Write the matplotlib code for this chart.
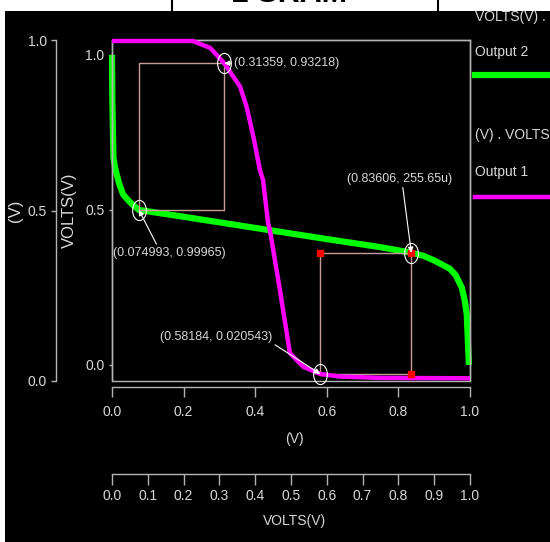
import numpy as np
import matplotlib
matplotlib.use('Agg')
import matplotlib.pyplot as plt
from matplotlib.path import Path
from matplotlib.patches import Rectangle
from matplotlib.lines import Line2D
from matplotlib.markers import MarkerStyle

# Output 2 (green), plotted against VOLTS(V)
out2_x = [0.0, 0.001, 0.004, 0.008, 0.013, 0.02, 0.031, 0.05, 0.075, 0.2, 0.4,
          0.6, 0.75, 0.83606, 0.87, 0.9, 0.925, 0.944, 0.96, 0.977, 0.985,
          0.991, 0.994, 0.997]
out2_y = [1.0, 0.85, 0.67, 0.64, 0.615, 0.585, 0.55, 0.525, 0.50, 0.478, 0.442,
          0.406, 0.38, 0.362, 0.352, 0.337, 0.322, 0.31, 0.29, 0.25, 0.21,
          0.163, 0.08, 0.0]

# Output 1 (magenta), plotted against (V)
out1_x = [0.0, 0.226, 0.274, 0.31359, 0.358, 0.376, 0.395, 0.413, 0.422, 0.436,
          0.441, 0.469, 0.497, 0.534, 0.58184, 0.637, 0.75, 1.0]
out1_y = [0.997, 0.997, 0.977, 0.932, 0.863, 0.804, 0.716, 0.619, 0.589, 0.463,
          0.443, 0.267, 0.082, 0.042, 0.0205, 0.013, 0.009, 0.008]

yticks = [0.0, 0.5, 1.0]
xticks_v = [0.0, 0.2, 0.4, 0.6, 0.8, 1.0]
xticks_volts = [0.0, 0.1, 0.2, 0.3, 0.4, 0.5, 0.6, 0.7, 0.8, 0.9, 1.0]

# marker readouts: x value, curve, label text
mark_a = (0.31359, 'out1', '(0.31359, 0.93218)')
mark_b = (0.074993, 'out2', '(0.074993, 0.99965)')
mark_c = (0.58184, 'out1', '(0.58184, 0.020543)')
mark_d = (0.83606, 'out2', '(0.83606, 255.65u)')

GREEN = '#00ff00'
MAGENTA = '#ff00ff'
GREY = '#b4b4b4'
TXT = '#d8d8d8'
BOX = '#c89a9a'
font = ['Liberation Sans', 'DejaVu Sans']

W, H = 550, 542
fig = plt.figure(figsize=(5.5, 5.42), dpi=100, facecolor='white')

# cut-off window title strip
fig.text(290 / W, 1 + 6 / H, '2 SRAM', ha='center', va='center', fontsize=22,
         weight='bold', family=font, color='black', zorder=-3)
for xp in (172, 438):
    fig.add_artist(Line2D([xp / W, xp / W], [1, 1 - 11 / H], color='black', lw=1.5, zorder=-3))
fig.add_artist(Rectangle((5 / W, 0), 545 / W, (H - 11) / H, transform=fig.transFigure,
                         fc='black', ec='none', zorder=-1))

rect = [112 / W, (H - 381) / H, 358 / W, 341 / H]
ax_g = fig.add_axes(rect)
ax_m = fig.add_axes(rect)
for ax in (ax_g, ax_m):
    ax.set_facecolor('none')
    ax.set_xlim(0, 1)
    for s in ax.spines.values():
        s.set_color(GREY)
        s.set_linewidth(1)
    ax.tick_params(colors=GREY, labelcolor=TXT, width=1)

ax_g.set_ylim(-0.0516, 1.048)
ax_m.set_ylim(0, 1)

# green axis: inner left ticks + lower "VOLTS(V)" x axis
ax_g.spines['top'].set_visible(False)
ax_g.spines['right'].set_visible(False)
ax_g.spines['bottom'].set_position(('outward', 93 * 0.72))
ax_g.set_xticks(xticks_volts)
ax_g.set_xticklabels(['%.1f' % v for v in xticks_volts], family=font, fontsize=10)
ax_g.tick_params(axis='x', direction='out', length=8, pad=3)
ax_g.set_yticks(yticks)
ax_g.set_yticklabels(['%.1f' % v for v in yticks], family=font, fontsize=10)
ax_g.tick_params(axis='y', direction='out', length=2.5, pad=3)
ax_g.set_xlabel('VOLTS(V)', family=font, fontsize=10, color=TXT)
ax_g.xaxis.set_label_coords(0.51, -0.39)
ax_g.set_ylabel('VOLTS(V)', family=font, fontsize=12, color=TXT)
ax_g.yaxis.set_label_coords((77 - 112) / 358, 0.5)

# magenta axis: outer left axis + upper "(V)" x axis
ax_m.spines['left'].set_position(('outward', 56 * 0.72))
ax_m.spines['bottom'].set_position(('outward', 6 * 0.72))
ax_m.set_xticks(xticks_v)
ax_m.set_xticklabels(['%.1f' % v for v in xticks_v], family=font, fontsize=10)
ax_m.tick_params(axis='x', direction='out', length=7.2, pad=5.5)
ax_m.set_yticks(yticks)
ax_m.set_yticklabels(['%.1f' % v for v in yticks], family=font, fontsize=10)
ax_m.tick_params(axis='y', direction='out', length=3.6, pad=3)
ax_m.set_xlabel('(V)', family=font, fontsize=10, color=TXT)
ax_m.xaxis.set_label_coords(0.51, -0.15)
ax_m.set_ylabel('(V)', family=font, fontsize=12, color=TXT)
ax_m.yaxis.set_label_coords((23 - 112) / 358, 0.5)

# plot frame
ax_m.add_patch(Rectangle((0, 0), 1, 1, transform=ax_m.transAxes, fill=False,
                         ec=GREY, lw=1, clip_on=False, zorder=1))

ax_g.plot(out2_x, out2_y, color=GREEN, lw=4.5, solid_capstyle='butt', clip_on=False)
ax_m.plot(out1_x, out1_y, color=MAGENTA, lw=3.2, solid_capstyle='butt', clip_on=False, zorder=3)


def to_m(x, y):
    # green-axis data -> magenta-axis data
    d = ax_g.transData.transform((x, y))
    return ax_m.transData.inverted().transform(d)


def point(mark):
    x, curve, _ = mark
    if curve == 'out1':
        return x, float(np.interp(x, out1_x, out1_y))
    return tuple(to_m(x, float(np.interp(x, out2_x, out2_y))))


pa, pb, pc, pd = point(mark_a), point(mark_b), point(mark_c), point(mark_d)

# measurement boxes
box1_x = [pb[0], pa[0], pa[0], pb[0], pb[0]]
box1_y = [pb[1], pb[1], pa[1], pa[1], pb[1]]
ax_m.plot(box1_x, box1_y, color=BOX, lw=1, zorder=2)
box2_x = [pc[0], pd[0], pd[0], pc[0], pc[0]]
box2_y = [pc[1], pc[1], pd[1], pd[1], pc[1]]
ax_m.plot(box2_x, box2_y, color=BOX, lw=1, zorder=2)
ax_m.plot([pc[0], pd[0], pd[0]], [pd[1], pd[1], pc[1]], 's', color='red', ms=5, zorder=4)

# ellipse markers on the readout points
circ = Path.unit_circle()
ell = Path(circ.vertices * [0.68, 1.0], circ.codes)
for p in (pa, pb, pc, pd):
    ax_m.plot(p[0], p[1], marker=MarkerStyle(ell), ms=14.5, mfc='none', mec='white',
              mew=0.8, zorder=5, clip_on=False)

arrow = dict(arrowstyle='-|>', color='white', lw=0.8, mutation_scale=8,
             shrinkA=0, shrinkB=0)
ann = dict(textcoords='offset pixels', va='center', family=font, fontsize=9,
           color=TXT, zorder=6)
ax_m.annotate(mark_a[2], pa, xytext=(10, 0), ha='left',
              arrowprops=dict(arrow, relpos=(0, 0.5)), **ann)
ax_m.annotate(mark_b[2], pb, xytext=(-26, -43), ha='left',
              arrowprops=dict(arrow, relpos=(0.4, 1.0)), **ann)
ax_m.annotate(mark_c[2], pc, xytext=(-48, 37), ha='right',
              arrowprops=dict(arrow, relpos=(1.0, 0.0)), **ann)
ax_m.annotate(mark_d[2], pd, xytext=(-12, 74), ha='center',
              arrowprops=dict(arrow, relpos=(0.53, 0.0)), **ann)

# legend on the right edge
lx = 475 / W
leg = dict(ha='left', va='center', family=font, fontsize=10, color=TXT)
fig.text(lx, 1 - 17 / H, 'VOLTS(V) . (V)', **leg)
fig.text(lx, 1 - 52 / H, 'Output 2', **leg)
fig.add_artist(Line2D([lx, 1.0], [1 - 75 / H] * 2, color=GREEN, lw=4.5))
fig.text(lx, 1 - 135 / H, '(V) . VOLTS(V)', **leg)
fig.text(lx, 1 - 172 / H, 'Output 1', **leg)
fig.add_artist(Line2D([lx, 1.0], [1 - 197 / H] * 2, color=MAGENTA, lw=3.2))

fig.savefig('out.png', dpi=100, facecolor='white')
